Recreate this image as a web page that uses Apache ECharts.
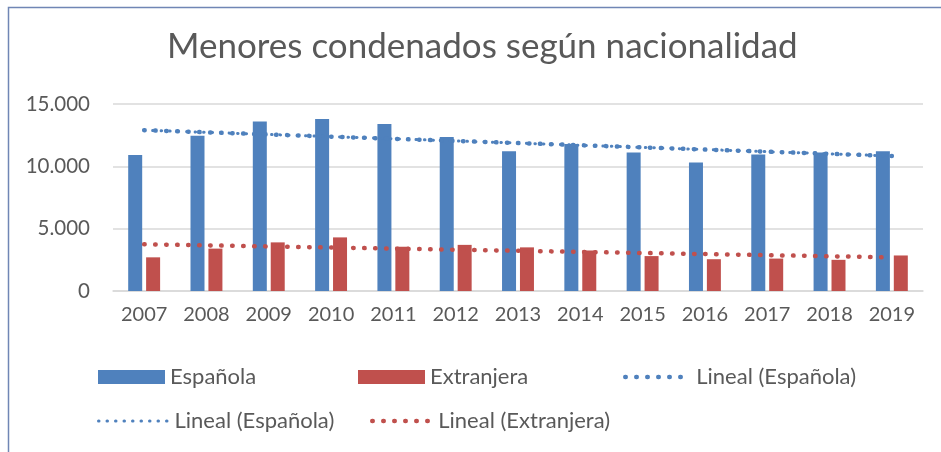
<!DOCTYPE html>
<html>
<head>
<meta charset="utf-8">
<title>Menores condenados según nacionalidad</title>
<script src="https://cdn.jsdelivr.net/npm/echarts@6/dist/echarts.min.js"></script>
<style>
  html, body { margin: 0; padding: 0; background: #fff; }
  #chart { width: 941px; height: 452px; }
</style>
</head>
<body>
<div id="chart"></div>
<script>
// categorías (años)
const years = ["2007", "2008", "2009", "2010", "2011", "2012", "2013", "2014", "2015", "2016", "2017", "2018", "2019"];

// valores
const espanola = [10900, 12450, 13600, 13800, 13400, 12350, 11200, 11800, 11100, 10300, 10950, 11100, 11200];
const extranjera = [2700, 3400, 3900, 4300, 3550, 3700, 3500, 3250, 2800, 2550, 2600, 2500, 2850];

// líneas de tendencia: valor al inicio y al final
const trendEspanola = [12900, 10830];
const trendExtranjera = [3750, 2700];

const yTicks = [0, 5000, 10000, 15000];

const textColor = "#595959";
const blue = "#4f81bd";
const red = "#c0504d";
const font = "Lato";

/** extremos en la primera y última categoría */
const ends = (pair) => years.map((y, i) => (i === 0 ? pair[0] : i === years.length - 1 ? pair[1] : null));

const fmt = (v) => v.toLocaleString("de-DE");

// estilos de los puntos
const dotsBig = { width: 4.5, type: [0.5, 10.5], cap: "round" };
const dotsSmall = { width: 3, type: [0.5, 8], cap: "round" };

const chart = echarts.init(document.getElementById("chart"));

const legendBase = {
  orient: "horizontal",
  padding: 0,
  itemGap: 0,
  itemHeight: 14,
  textStyle: { color: textColor, fontSize: 22, fontFamily: font },
};

// leyenda de línea: sin el círculo del medio
const lineLegend = (name, left, top, width, dots) =>
  Object.assign({}, legendBase, {
    data: [name],
    left: left,
    top: top,
    itemWidth: width,
    itemStyle: { color: "rgba(0,0,0,0)", borderWidth: 0, opacity: 0 },
    lineStyle: dots,
  });

const option = {
  animation: false,
  backgroundColor: "#fff",
  title: {
    text: "Menores condenados según nacionalidad",
    left: 162,
    top: 24,
    textStyle: { color: textColor, fontSize: 35, fontWeight: "normal", fontFamily: font },
  },
  grid: { left: 113, right: 18, top: 104, bottom: 161 },
  xAxis: {
    type: "category",
    data: years,
    axisLine: { lineStyle: { color: "#d9d9d9", width: 1.5 } },
    axisTick: { show: false },
    axisLabel: { color: textColor, fontSize: 20, fontFamily: font, margin: 14 },
  },
  yAxis: {
    type: "value",
    min: yTicks[0],
    max: yTicks[yTicks.length - 1],
    interval: 5000,
    axisLine: { show: false },
    axisTick: { show: false },
    splitLine: { lineStyle: { color: "#d9d9d9", width: 1.5 } },
    axisLabel: { color: textColor, fontSize: 20.5, fontFamily: font, margin: 23, formatter: fmt },
  },
  legend: [
    Object.assign({}, legendBase, { data: [{ name: "Española", icon: "rect" }], left: 98, top: 366, itemWidth: 67 }),
    Object.assign({}, legendBase, { data: [{ name: "Extranjera", icon: "rect" }], left: 358, top: 366, itemWidth: 67 }),
    lineLegend("Lineal (Española)", 623, 366, 66, dotsBig),
    lineLegend("Lineal (Española) ", 97, 410, 71, dotsSmall),
    lineLegend("Lineal (Extranjera)", 370, 410, 61, dotsBig),
  ],
  series: [
    {
      name: "Española",
      type: "bar",
      data: espanola,
      barWidth: 14,
      barGap: "28%",
      itemStyle: { color: blue },
    },
    {
      name: "Extranjera",
      type: "bar",
      data: extranjera,
      barWidth: 14,
      itemStyle: { color: red },
    },
    {
      name: "Lineal (Española)",
      type: "line",
      data: ends(trendEspanola),
      connectNulls: true,
      symbol: "none",
      z: 5,
      itemStyle: { color: blue },
      lineStyle: Object.assign({ color: blue }, dotsBig),
    },
    {
      name: "Lineal (Española) ",
      type: "line",
      data: ends(trendEspanola),
      connectNulls: true,
      symbol: "none",
      z: 5,
      itemStyle: { color: blue },
      lineStyle: Object.assign({ color: blue }, dotsSmall),
    },
    {
      name: "Lineal (Extranjera)",
      type: "line",
      data: ends(trendExtranjera),
      connectNulls: true,
      symbol: "none",
      z: 5,
      itemStyle: { color: red },
      lineStyle: Object.assign({ color: red }, dotsBig),
    },
  ],
  // marco del gráfico (solo se ven los bordes superior e izquierdo)
  graphic: [
    {
      type: "rect",
      left: 6,
      top: 5,
      shape: { width: 1200, height: 800 },
      style: { fill: null, stroke: "#7086b5", lineWidth: 1.5 },
      silent: true,
    },
  ],
};

chart.setOption(option);
</script>
</body>
</html>
